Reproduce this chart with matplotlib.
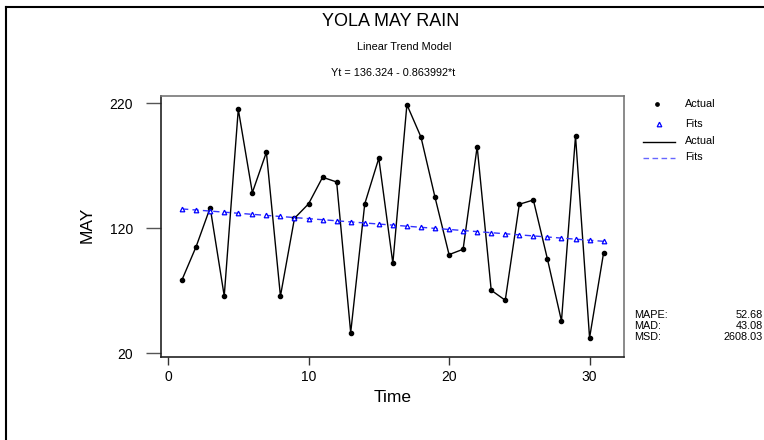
import matplotlib
matplotlib.use("Agg")
import matplotlib.pyplot as plt
from matplotlib.lines import Line2D
import numpy as np

plt.rcParams['font.family'] = ['Liberation Sans', 'DejaVu Sans']

# data
t = list(range(1, 32))
actual = [78.9, 105.3, 136.5, 65.8, 215.2, 148.5, 180.8, 65.7, 128.0, 139.5,
          160.8, 157.0, 36.5, 139.5, 176.0, 92.0, 218.9, 193.0, 144.8, 98.9,
          103.2, 185.3, 70.4, 62.4, 139.2, 142.6, 95.4, 45.8, 193.8, 32.3, 100.5]
fits = [135.46, 134.60, 133.73, 132.87, 132.00, 131.14, 130.28, 129.41, 128.55, 127.68,
        126.82, 125.96, 125.09, 124.23, 123.36, 122.50, 121.64, 120.77, 119.91, 119.04,
        118.18, 117.32, 116.45, 115.59, 114.72, 113.86, 113.00, 112.13, 111.27, 110.40, 109.54]
stat_names = ["MAPE:", "MAD:", "MSD:"]
stat_vals = ["52.68", "43.08", "2608.03"]
xticks = [0, 10, 20, 30]
yticks = [20, 120, 220]

W, H = 764, 440
fig = plt.figure(figsize=(W / 100, H / 100), dpi=100)

def fx(px):
    return px / W

def fy(py):
    return 1 - py / H

ax = fig.add_axes([fx(161), fy(357), (624 - 161) / W, (357 - 96) / H])

ax.plot(t, actual, color="black", lw=1.0, zorder=2)
ax.plot(t, actual, "o", color="black", ms=3, zorder=3)
ax.plot(t, fits, color="#3333ff", lw=1.0, ls=(0, (4.5, 3)), zorder=2)
ax.plot(t, fits, "^", mfc="white", mec="#0000ff", mew=0.9, ms=3.3, zorder=3)

ax.set_xlim(-0.5, 32.45)
ax.set_ylim(17.0, 225.8)
ax.set_xticks(xticks)
ax.set_yticks(yticks)
ax.tick_params(axis="y", direction="out", length=11, width=1.0, color="#555555",
               labelsize=10, pad=9)
ax.tick_params(axis="x", direction="out", length=6, width=1.0, color="#333333",
               labelsize=10, pad=3)
for s in ["top", "right"]:
    ax.spines[s].set_color("#777777")
    ax.spines[s].set_linewidth(1.2)
for s in ["left", "bottom"]:
    ax.spines[s].set_color("#222222")
    ax.spines[s].set_linewidth(1.2)

ax.set_xlabel("Time", fontsize=12.5, labelpad=5)
fig.text(fx(87), fy(225), "MAY", rotation=90, fontsize=12.5, ha="center", va="center")

# titles
fig.text(fx(391), fy(21), "YOLA MAY RAIN", fontsize=13, ha="center", va="center")
fig.text(fx(404), fy(47), "Linear Trend Model", fontsize=7.8, ha="center", va="center")
fig.text(fx(393), fy(73), "Yt = 136.324 - 0.863992*t", fontsize=7.8, ha="center", va="center")

# legend
fig.add_artist(Line2D([fx(657)], [fy(104)], marker="o", color="black", ms=2.4, ls="none"))
fig.add_artist(Line2D([fx(659)], [fy(124)], marker="^", mfc="white", mec="#0000ff",
                      mew=0.9, ms=3.3, ls="none"))
fig.add_artist(Line2D([fx(643), fx(675)], [fy(142), fy(142)], color="black", lw=1.0))
fig.add_artist(Line2D([fx(643), fx(675)], [fy(158), fy(158)], color="#6666ff", lw=1.0,
                      ls=(0, (4, 2.5))))
for py, lab in zip([104, 124, 141, 157], ["Actual", "Fits", "Actual", "Fits"]):
    fig.text(fx(685), fy(py), lab, fontsize=7.8, ha="left", va="center")

# accuracy measures
for i, (nm, v) in enumerate(zip(stat_names, stat_vals)):
    py = 315 + 11 * i
    fig.text(fx(634), fy(py), nm, fontsize=7.8, ha="left", va="center")
    fig.text(fx(763), fy(py), v, fontsize=7.8, ha="right", va="center")

# frame border (left and top)
fig.add_artist(Line2D([fx(6), fx(6)], [fy(7), 0], color="black", lw=1.5))
fig.add_artist(Line2D([fx(6), 1], [fy(7), fy(7)], color="black", lw=1.5))

fig.savefig("out.png", dpi=100)
